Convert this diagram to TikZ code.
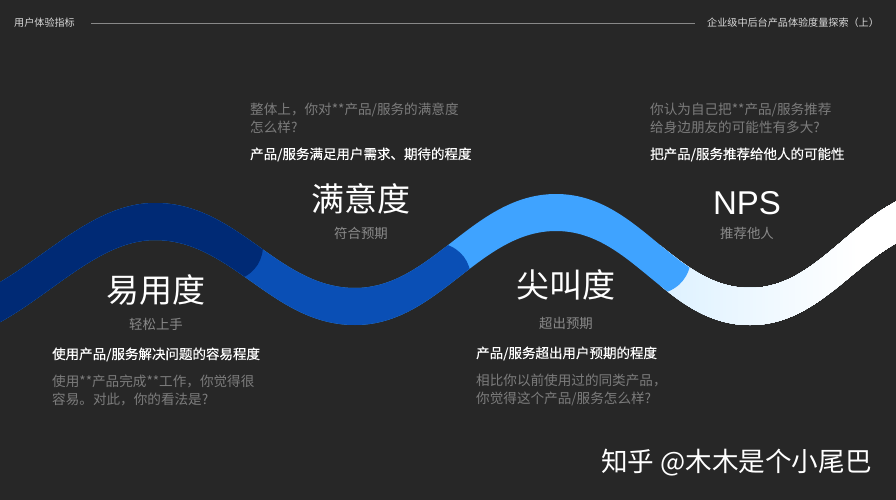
\documentclass[tikz,border=0pt]{standalone}
\usepackage{fontspec}
\setmainfont{Noto Sans CJK SC}
\newfontfamily\latinfont{Liberation Sans}
\newfontfamily\midfont[FakeBold=0.25]{Noto Sans CJK SC}
\usepackage{xcolor}
\definecolor{bgdark}{HTML}{272727}
\definecolor{navyband}{HTML}{002A75}
\definecolor{blueband}{HTML}{0A4FB5}
\definecolor{skyband}{HTML}{3FA3FF}
\definecolor{paleband}{HTML}{DDF1FF}
\definecolor{subgray}{HTML}{8A8A8A}
\definecolor{asktext}{HTML}{7C7C7C}
\newcommand{\wavepath}{(-75,306) .. controls (12,306) and (72,203) .. (155,203)
  .. controls (238,203) and (278,288) .. (355,288)
  .. controls (432,288) and (473,194) .. (556,194)
  .. controls (639,194) and (673,288) .. (750,288)
  .. controls (827,288) and (862,188) .. (950,188)
  -- (950,228) .. controls (868,228) and (833,325) .. (750,325)
  .. controls (667,325) and (633,231) .. (556,231)
  .. controls (479,231) and (438,325) .. (355,325)
  .. controls (272,325) and (232,240) .. (155,240)
  .. controls (78,240) and (18,344) .. (-75,344) -- cycle}
\tikzset{
  every node/.append style={inner sep=0pt},
  bighead/.style={anchor=base,white,font=\fontsize{33}{36}\selectfont},
  subhead/.style={anchor=base,subgray,font=\fontsize{13.4}{15}\selectfont},
  boldline/.style={anchor=base west,white,font=\fontsize{13.5}{15}\selectfont\midfont},
  askline/.style={anchor=base west,asktext,font=\fontsize{13.6}{15}\selectfont},
  topline/.style={anchor=base west,white!85!black,font=\fontsize{10.1}{12}\selectfont}
}
\begin{document}
\begin{tikzpicture}[x=1pt,y=-1pt]
\useasboundingbox (0,0) rectangle (896,500);
\fill [bgdark] (0,0) rectangle (896,500);
% top rule
\node [topline] (lefttitle) at (14,26.5) {用户体验指标};
\node [topline] (righttitle) at (707,26.5) {企业级中后台产品体验度量探索（上）};
\coordinate (rulestart) at (91,23);
\coordinate (ruleend) at (695,23);
\draw [white!45!bgdark,line width=0.8pt] (rulestart) -- (ruleend);
% wave, white part first, each colour is cut off at its round end
\foreach \i in {0,...,80} {
  \pgfmathsetmacro{\slicex}{660+\i*3}
  \pgfmathsetmacro{\slicemix}{min(100,\i*100/65)}
  \begin{scope}
    \clip (\slicex,0) rectangle (900,500);
    \fill [white!\slicemix!paleband] \wavepath;
  \end{scope}
}
\begin{scope}
  \clip (-5,0) -- (700,0) -- (691,258) to[bend left=35] (664,293) -- (664,500) -- (-5,500) -- cycle;
  \fill [skyband] \wavepath;
\end{scope}
\begin{scope}
  \clip (-5,0) -- (445,0) -- (445,244) to[bend left=35] (471,278) -- (471,500) -- (-5,500) -- cycle;
  \fill [blueband] \wavepath;
\end{scope}
\begin{scope}
  \clip (-5,0) -- (265,0) -- (263,243) to[bend left=35] (240,279) -- (240,500) -- (-5,500) -- cycle;
  \fill [navyband] \wavepath;
\end{scope}
% ease of use
\node [bighead] (easehead) at (156,302) {易用度};
\node [subhead] (easesub) at (156,329) {轻松上手};
\node [boldline] (easebold) at (52,359) {使用产品/服务解决问题的容易程度};
\node [askline] (easeaska) at (52,386) {使用**产品完成**工作，你觉得很};
\node [askline] (easeaskb) at (52,404) {容易。对此，你的看法是?};
% satisfaction
\node [askline] (satiaska) at (250,114) {整体上，你对**产品/服务的满意度};
\node [askline] (satiaskb) at (250,132) {怎么样?};
\node [boldline] (satibold) at (250,159) {产品/服务满足用户需求、期待的程度};
\node [bighead] (satihead) at (361,211) {满意度};
\node [subhead] (satisub) at (361,238) {符合预期};
% delight
\node [bighead] (wowhead) at (566,297) {尖叫度};
\node [subhead] (wowsub) at (566,328) {超出预期};
\node [boldline] (wowbold) at (476,358) {产品/服务超出用户预期的程度};
\node [askline] (wowaska) at (476,385) {相比你以前使用过的同类产品，};
\node [askline] (wowaskb) at (476,403) {你觉得这个产品/服务怎么样?};
% nps
\node [askline] (npsaska) at (650,114) {你认为自己把**产品/服务推荐};
\node [askline] (npsaskb) at (650,132) {给身边朋友的可能性有多大?};
\node [boldline] (npsbold) at (650,159) {把产品/服务推荐给他人的可能性};
\node [bighead,font=\fontsize{33}{36}\selectfont\latinfont] (npshead) at (747,214) {NPS};
\node [subhead] (npssub) at (747,238) {推荐他人};
% watermark
\node [anchor=base west,white,font=\fontsize{26.6}{30}\selectfont] (watermark) at (601,471) {知乎 @木木是个小尾巴};
\end{tikzpicture}
\end{document}
